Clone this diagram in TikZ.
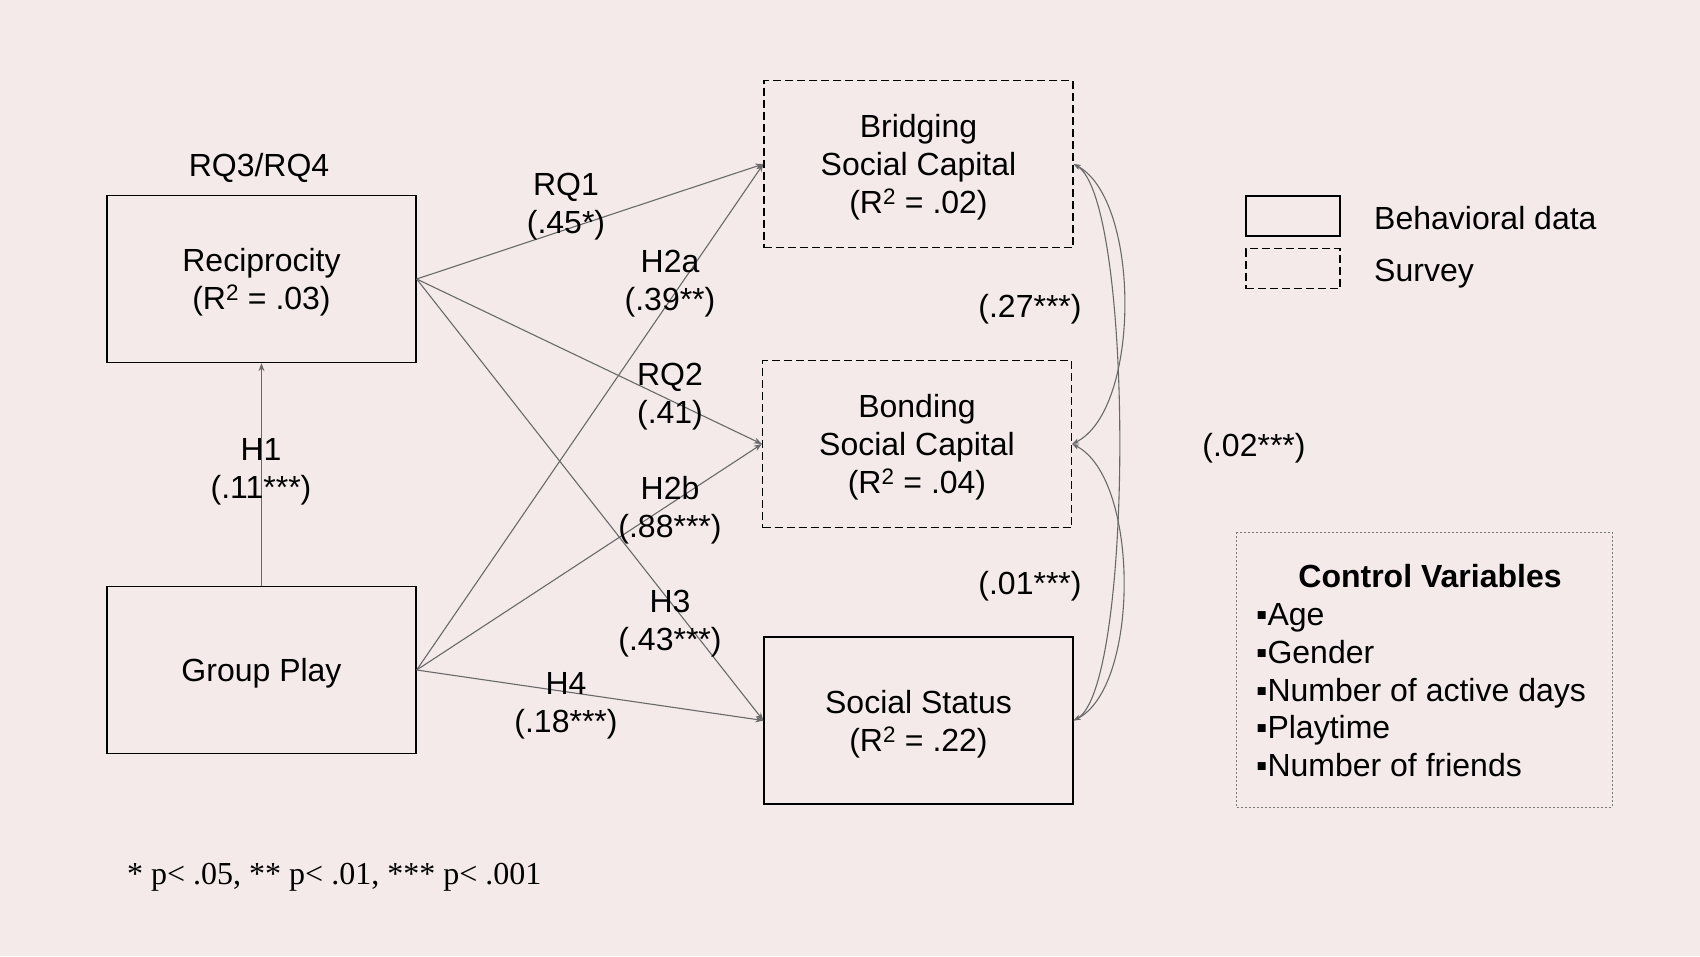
\documentclass[tikz,border=0pt]{standalone}
\usepackage{fontspec}
\setmainfont{Liberation Sans}
\newfontfamily\notefont{Liberation Serif}
\usetikzlibrary{arrows.meta}
\definecolor{bgc}{RGB}{245,234,234}
\definecolor{conn}{RGB}{105,105,105}
\definecolor{dotc}{RGB}{120,120,120}
\begin{document}
\begin{tikzpicture}[x=1pt,y=-1pt,
  every node/.style={font=\fontsize{32}{38}\selectfont, inner sep=0pt, text height=23pt, text depth=0pt},
  varbox/.style={draw=black, line width=1.3pt, minimum width=309pt, minimum height=167pt, align=center, text height=, text depth=0pt},
  survbox/.style={varbox, dash pattern=on 8pt off 4pt},
  lab/.style={align=center, text height=, text depth=0pt},
  pathc/.style={draw=conn, line width=1.1pt, -{Stealth[length=8pt,width=6pt]}},
  covc/.style={draw=conn, line width=1.1pt, {Stealth[length=7pt,width=5pt]}-{Stealth[length=7pt,width=5pt]}},
  legsolid/.style={draw=black, line width=1.1pt, minimum width=94pt, minimum height=40pt, text height=, text depth=},
  legdash/.style={legsolid, dash pattern=on 8pt off 4pt}
]
\fill[bgc] (0,0) rectangle (1700,956);
\useasboundingbox (0,0) rectangle (1700,956);

% variable boxes
\node[varbox] (rec) at (261.5,279) {Reciprocity\\(R\textsuperscript{2} = .03)};
\node[varbox] (gp) at (261.5,670) {Group Play};
\node[survbox] (bri) at (918.5,164) {Bridging\\Social Capital\\(R\textsuperscript{2} = .02)};
\node[survbox] (bon) at (917,444) {Bonding\\Social Capital\\(R\textsuperscript{2} = .04)};
\node[varbox] (ss) at (918.5,720.5) {Social Status\\(R\textsuperscript{2} = .22)};

\node (rq34) at (259,165) {RQ3/RQ4};

% paths
\draw[pathc] (gp.north) -- (rec.south);
\draw[pathc] (rec.east) -- (bri.west);
\draw[pathc] (rec.east) -- (bon.west);
\draw[pathc] (rec.east) -- (ss.west);
\draw[pathc] (gp.east) -- (bri.west);
\draw[pathc] (gp.east) -- (bon.west);
\draw[pathc] (gp.east) -- (ss.west);

% path labels
\node[lab] (lh1) at (261,468) {H1\\(.11***)};
\node[lab] (lrq1) at (566,203) {RQ1\\(.45*)};
\node[lab] (lh2a) at (670,280) {H2a\\(.39**)};
\node[lab] (lrq2) at (670,393) {RQ2\\(.41)};
\node[lab] (lh2b) at (670,507) {H2b\\(.88***)};
\node[lab] (lh3) at (670,620) {H3\\(.43***)};
\node[lab] (lh4) at (566,702) {H4\\(.18***)};

% covariances
\draw[covc] (bri.east) .. controls (1141,200) and (1141,410) .. (bon.east);
\draw[covc] (bri.east) .. controls (1134,200) and (1134,687) .. (ss.east);
\draw[covc] (bon.east) .. controls (1140,478) and (1140,687) .. (ss.east);
\node (c1) at (1030,306) {(.27***)};
\node (c2) at (1030,583) {(.01***)};
\node (c3) at (1254,445) {(.02***)};

% legend
\node[legsolid] (legb) at (1293,216) {};
\node[legdash] (legs) at (1293,268.5) {};
\node[anchor=west] (legbt) at (1374,218) {Behavioral data};
\node[anchor=west] (legst) at (1374,270) {Survey};

% control variables
\draw[dotc, line width=1pt, dash pattern=on 2pt off 2pt] (1236,532) rectangle (1612,807);
\node (cvt) at (1430,576) {\bfseries Control Variables};
\node[anchor=west] (cv1) at (1256,614) {▪Age};
\node[anchor=west] (cv2) at (1256,652) {▪Gender};
\node[anchor=west] (cv3) at (1256,690) {▪Number of active days};
\node[anchor=west] (cv4) at (1256,727) {▪Playtime};
\node[anchor=west] (cv5) at (1256,765) {▪Number of friends};

% footnote
\node[anchor=west, font=\notefont\fontsize{32}{38}\selectfont] (note) at (127,873) {* p< .05, ** p< .01, *** p< .001};
\end{tikzpicture}
\end{document}
